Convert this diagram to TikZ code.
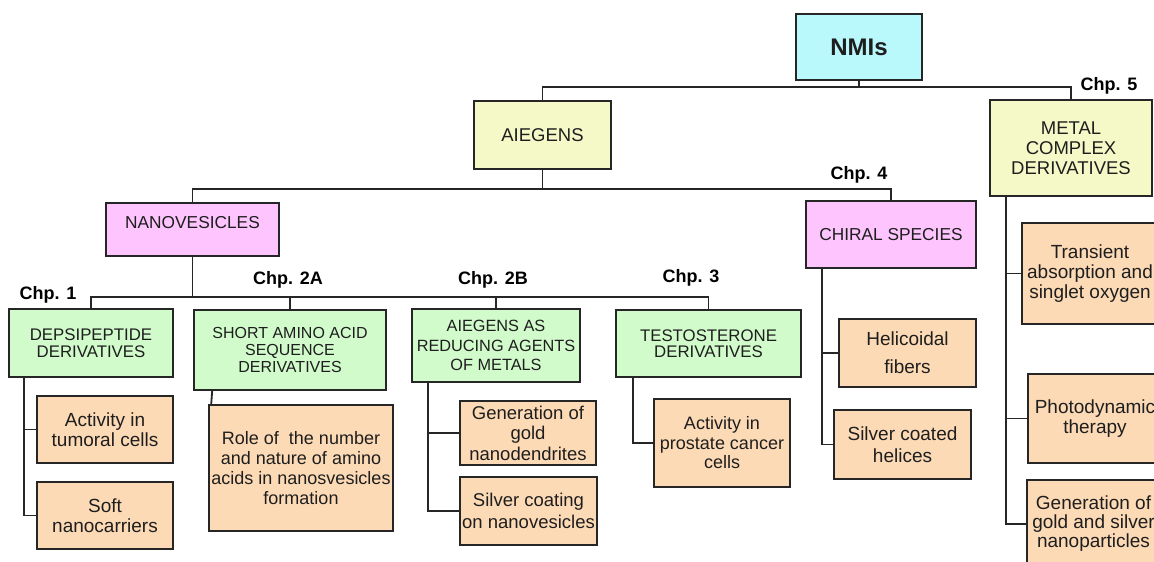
\documentclass[tikz,border=0pt]{standalone}
\usepackage{fontspec}
\setmainfont{Liberation Sans}
\usetikzlibrary{calc}
\definecolor{nmiC}{HTML}{B9F9FC}
\definecolor{yelC}{HTML}{F4F9C7}
\definecolor{pinkC}{HTML}{FDC4FD}
\definecolor{grnC}{HTML}{D2FBCC}
\definecolor{orgC}{HTML}{FDDAB6}
\definecolor{lineC}{HTML}{262626}
\definecolor{txtC}{HTML}{1E1E1E}
\begin{document}
\begin{tikzpicture}[x=1pt,y=-1pt,
  boxbase/.style={draw=lineC, line width=1.6pt, inner sep=0pt, align=center, text=txtC},
  nmistyle/.style={boxbase, fill=nmiC, font=\fontsize{24}{26}\selectfont\bfseries},
  yellowbox/.style={boxbase, fill=yelC},
  pinkbox/.style={boxbase, fill=pinkC, font=\fontsize{17.3}{18}\selectfont},
  greenbox/.style={boxbase, fill=grnC},
  orangebox/.style={boxbase, fill=orgC},
  chplabel/.style={inner sep=0pt, text=black, font=\fontsize{18}{20}\selectfont\bfseries},
  wire/.style={draw=lineC, line width=1.8pt}]
\useasboundingbox (0,0) rectangle (1154,562);
\clip (0,0) rectangle (1154,562);

% top levels
\node[nmistyle, minimum width=126pt, minimum height=66pt] (nmi) at (859,47) {NMIs};
\node[yellowbox, minimum width=137pt, minimum height=68pt, font=\fontsize{18.5}{19}\selectfont] (aie) at (542.5,135) {AIEGENS};
\node[yellowbox, minimum width=162pt, minimum height=96pt, font=\fontsize{18.5}{20}\selectfont] (metal) at (1071,148) {METAL\\COMPLEX\\DERIVATIVES};
\node[pinkbox, minimum width=173pt, minimum height=53pt, text height=12pt, text depth=15pt] (nano) at (192.5,229.5) {NANOVESICLES};
\node[pinkbox, minimum width=170pt, minimum height=67pt] (chiral) at (891,234.5) {CHIRAL SPECIES};

% green level
\node[greenbox, minimum width=164pt, minimum height=68pt, font=\fontsize{16.8}{16.5}\selectfont] (deps) at (91,343) {DEPSIPEPTIDE\\DERIVATIVES};
\node[greenbox, minimum width=192pt, minimum height=80pt, font=\fontsize{16}{17}\selectfont] (short) at (290,350) {SHORT AMINO ACID\\SEQUENCE\\DERIVATIVES};
\node[greenbox, minimum width=168pt, minimum height=73pt, font=\fontsize{16.3}{19.5}\selectfont] (aiered) at (496,345.5) {AIEGENS AS\\REDUCING AGENTS\\OF METALS};
\node[greenbox, minimum width=185pt, minimum height=67pt, font=\fontsize{16.8}{16}\selectfont] (testo) at (708.5,343.5) {TESTOSTERONE\\DERIVATIVES};

% orange leaves
\node[orangebox, minimum width=136pt, minimum height=67pt, font=\fontsize{19}{20}\selectfont] (act) at (105,429.5) {Activity in\\tumoral cells};
\node[orangebox, minimum width=136pt, minimum height=67pt, font=\fontsize{19}{20}\selectfont] (soft) at (105,515.5) {Soft\\nanocarriers};
\node[orangebox, minimum width=184pt, minimum height=126pt, font=\fontsize{18}{20}\selectfont] (role) at (301,468) {Role of~ the number\\and nature of amino\\acids in nanosvesicles\\formation};
\node[orangebox, minimum width=136pt, minimum height=64pt, font=\fontsize{18.5}{20.5}\selectfont] (gold) at (528,433) {Generation of\\gold\\nanodendrites};
\node[orangebox, minimum width=137pt, minimum height=68pt, font=\fontsize{18.5}{21.5}\selectfont] (silv) at (528.5,511) {Silver coating\\on nanovesicles};
\node[orangebox, minimum width=136pt, minimum height=88pt, font=\fontsize{18}{19.5}\selectfont] (prost) at (722,443) {Activity in\\prostate cancer\\cells};
\node[orangebox, minimum width=137pt, minimum height=68pt, font=\fontsize{19}{28}\selectfont] (heli) at (907.5,353) {Helicoidal\\fibers};
\node[orangebox, minimum width=137pt, minimum height=69pt, font=\fontsize{19}{22}\selectfont] (shel) at (902.5,444.5) {Silver coated\\helices};
\node[orangebox, minimum width=136pt, minimum height=101pt, font=\fontsize{19}{20}\selectfont] (trans) at (1090,273.5) {Transient\\absorption and\\singlet oxygen};
\node[orangebox, minimum width=134pt, minimum height=89pt, font=\fontsize{19}{20}\selectfont] (photo) at (1095,418.5) {Photodynamic\\therapy};
\node[orangebox, minimum width=133pt, minimum height=88pt, font=\fontsize{19}{19}\selectfont] (gen) at (1093.5,524) {Generation of\\gold and silver\\nanoparticles};

% chapter labels
\node[chplabel] (c5) at (1109,86) {Chp. 5};
\node[chplabel] (c4) at (859,175) {Chp. 4};
\node[chplabel] (c1) at (48,295) {Chp. 1};
\node[chplabel] (c2a) at (288,280) {Chp. 2A};
\node[chplabel] (c2b) at (493,280) {Chp. 2B};
\node[chplabel] (c3) at (691,278) {Chp. 3};

% connectors
\coordinate (j0) at ($(nmi.south)+(0,6)$);
\draw[wire] (nmi.south) -- (j0) -| (aie.north);
\draw[wire] (j0) -| (metal.north);
\coordinate (j1) at ($(aie.south)+(0,19)$);
\draw[wire] (aie.south) -- (j1) -| (nano.north);
\draw[wire] (j1) -| (chiral.north);
\coordinate (j2) at ($(nano.south)+(0,40)$);
\draw[wire] (nano.south) -- (j2) -| (deps.north);
\draw[wire] (j2) -| (short.north);
\draw[wire] (j2) -| (aiered.north);
\draw[wire] (j2) -| (testo.north);

\coordinate (d0) at ([xshift=16pt]deps.south west);
\draw[wire] (d0) |- (act.west);
\draw[wire] (d0) |- (soft.west);
\coordinate (s0) at ([xshift=19pt]short.south west);
\coordinate (s1) at ([xshift=3pt]role.north west);
\draw[wire] (s0) -- (s1);
\coordinate (a0) at ([xshift=17pt]aiered.south west);
\draw[wire] (a0) |- (gold.west);
\draw[wire] (a0) |- (silv.west);
\coordinate (t0) at ([xshift=18pt]testo.south west);
\draw[wire] (t0) |- (prost.west);
\coordinate (h0) at ([xshift=17pt]chiral.south west);
\draw[wire] (h0) |- (heli.west);
\draw[wire] (h0) |- (shel.west);
\coordinate (m0) at ([xshift=17pt]metal.south west);
\draw[wire] (m0) |- (trans.west);
\draw[wire] (m0) |- (photo.west);
\draw[wire] (m0) |- (gen.west);
\end{tikzpicture}
\end{document}
